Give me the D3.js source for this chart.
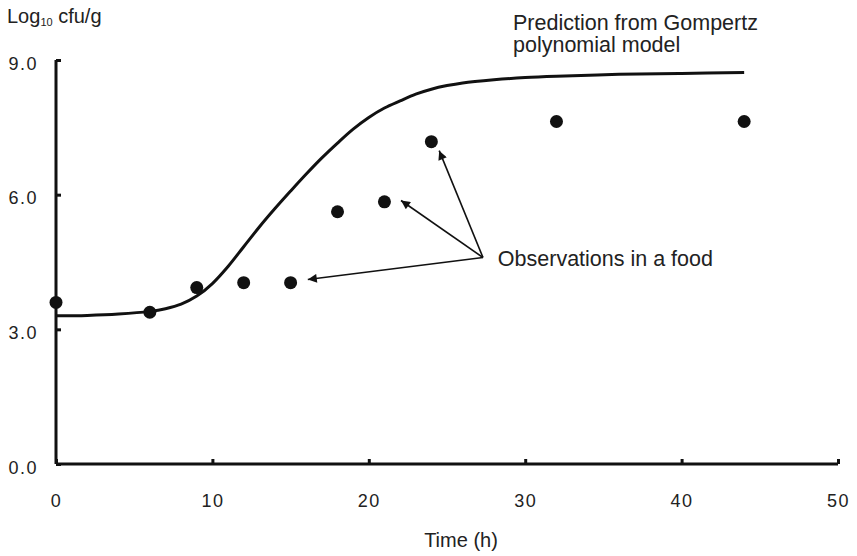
<!DOCTYPE html>
<html><head><meta charset="utf-8">
<script src="https://cdn.jsdelivr.net/npm/d3@7"></script>
<style>
body{margin:0;background:#fff;}
text{font-family:"Liberation Sans",Arial,Helvetica,sans-serif;fill:#222;}
</style></head>
<body><svg id="c" width="857" height="556"></svg>
<script>
// Observations
const obsTime = [0, 6, 9, 12, 15, 18, 21, 24, 32, 44];
const obsLog  = [3.6, 3.38, 3.93, 4.04, 4.04, 5.62, 5.84, 7.18, 7.63, 7.63];
// Prediction curve
const predTime = [0, 2, 4, 6, 7, 8, 9, 10, 11, 12, 13, 14, 15, 16, 17, 18, 19, 20, 21, 22, 23, 24, 25, 26, 28, 30, 32, 36, 40, 44];
const predLog  = [3.3, 3.31, 3.34, 3.4, 3.46, 3.56, 3.74, 4.02, 4.4, 4.84, 5.28, 5.69, 6.08, 6.46, 6.82, 7.15, 7.46, 7.72, 7.93, 8.09, 8.24, 8.35, 8.43, 8.49, 8.56, 8.61, 8.64, 8.68, 8.7, 8.72];
const xTicks = [0, 10, 20, 30, 40, 50];
const yTicks = [0, 3, 6, 9];
// Annotation arrows: from label point to observations (data units)
const arrowFrom = [27.3, 4.6];
const arrowTo = [[24.5, 6.98], [22.06, 5.87], [16.1, 4.11]];

const svg = d3.select("#c");
const x = d3.scaleLinear().domain([0, 50]).range([56, 838]);
const y = d3.scaleLinear().domain([0, 9]).range([464, 60]);

svg.append("defs").append("marker")
  .attr("id", "ah").attr("viewBox", "0 0 10 10").attr("refX", 10).attr("refY", 5)
  .attr("markerWidth", 12).attr("markerHeight", 9).attr("markerUnits", "userSpaceOnUse")
  .attr("orient", "auto")
  .append("path").attr("d", "M0,0L10,5L0,10Z").attr("fill", "#111");

// axes
const xAxis = svg.append("g").attr("transform", `translate(0,${y(0)})`)
  .call(d3.axisBottom(x).tickValues(xTicks).tickSize(-5).tickPadding(30).tickFormat(d3.format("d")));
const yAxis = svg.append("g").attr("transform", `translate(${x(0)},0)`)
  .call(d3.axisLeft(y).tickValues(yTicks).tickSize(-5).tickPadding(18).tickFormat(d3.format(".1f")));
[xAxis, yAxis].forEach(g => {
  g.select(".domain").attr("stroke", "#111").attr("stroke-width", 3);
  g.selectAll(".tick line").attr("stroke", "#111").attr("stroke-width", 3);
  g.selectAll(".tick text").attr("font-size", 18).attr("fill", "#333")
    .style("font-family", '"Liberation Sans",Arial,sans-serif').attr("letter-spacing", 1.5);
});
xAxis.select(".domain").attr("d", `M${x(0)},0H${x(50)}`);
yAxis.select(".domain").attr("d", `M0,${y(0)}V${y(9)}`);
yAxis.selectAll(".tick text").attr("dy", "0.5em");

// prediction curve
const line = d3.line().x((d, i) => x(predTime[i])).y(d => y(d)).curve(d3.curveCatmullRom);
svg.append("path").datum(predLog).attr("d", line)
  .attr("fill", "none").attr("stroke", "#111").attr("stroke-width", 3);

// observations
svg.selectAll("circle.obs").data(obsLog).join("circle").attr("class", "obs")
  .attr("cx", (d, i) => x(obsTime[i])).attr("cy", d => y(d)).attr("r", 6.5).attr("fill", "#111");

// arrows
svg.selectAll("line.arr").data(arrowTo).join("line").attr("class", "arr")
  .attr("x1", x(arrowFrom[0])).attr("y1", y(arrowFrom[1]))
  .attr("x2", d => x(d[0])).attr("y2", d => y(d[1]))
  .attr("stroke", "#111").attr("stroke-width", 1.6).attr("marker-end", "url(#ah)");

// texts
svg.append("text").attr("x", x(28.25)).attr("y", y(4.6) + 8).attr("font-size", 21.5)
  .attr("fill", "#222").text("Observations in a food");
const pred = svg.append("text").attr("x", 513).attr("font-size", 21.5).attr("fill", "#222");
pred.append("tspan").attr("x", 513).attr("y", 30).text("Prediction from Gompertz");
pred.append("tspan").attr("x", 513).attr("y", 52).text("polynomial model");

const yl = svg.append("text").attr("x", 7).attr("y", 23).attr("font-size", 20).attr("fill", "#333");
yl.append("tspan").text("Log");
yl.append("tspan").attr("font-size", 11).attr("dy", 3).text("10");
yl.append("tspan").attr("dy", -3).text(" cfu/g");

svg.append("text").attr("x", 461).attr("y", 547).attr("text-anchor", "middle")
  .attr("font-size", 20).attr("fill", "#333").text("Time (h)");
</script></body></html>
